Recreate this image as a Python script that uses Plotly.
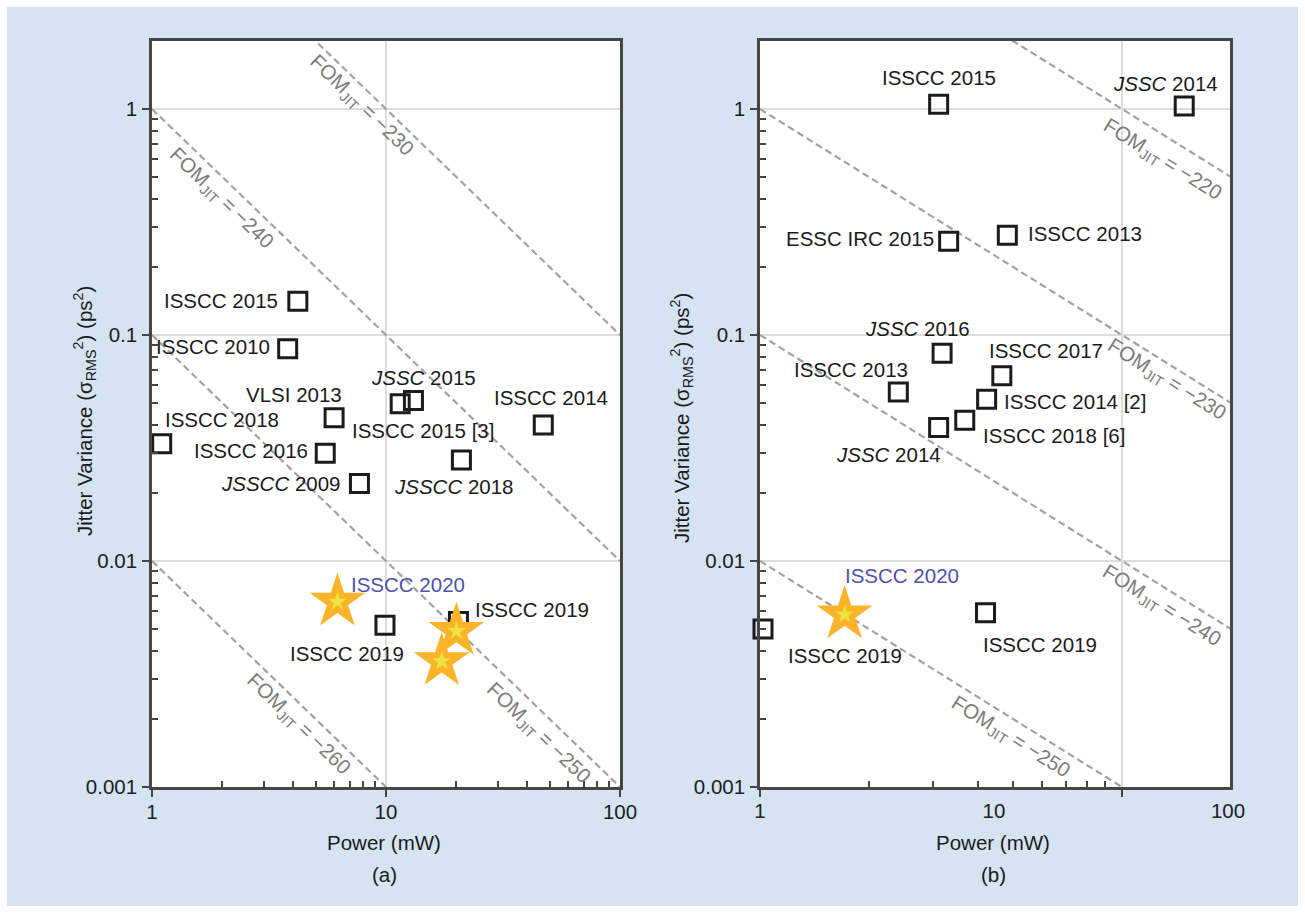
import numpy as np
import plotly.graph_objects as go

W, H = 1305, 913
M_T, M_B = 41, 126

# ---------------- data ----------------
# (a) published oscillators / PLLs: power (mW) vs jitter variance (ps^2)
a_power = [4.2, 3.8, 6.0, 1.1, 5.5, 7.7, 11.5, 13.1, 47.0, 21.0, 9.9, 20.4]
a_jitter = [0.141, 0.087, 0.043, 0.033, 0.030, 0.022, 0.0496, 0.0513, 0.040, 0.028, 0.0052, 0.0054]
a_labels = ["ISSCC 2015", "ISSCC 2010", "VLSI 2013", "ISSCC 2018", "ISSCC 2016",
            "<i>JSSCC</i> 2009", "ISSCC 2015 [3]", "<i>JSSC</i> 2015", "ISSCC 2014",
            "<i>JSSCC</i> 2018", "ISSCC 2019", "ISSCC 2019"]
a_star_power = [6.2, 20.0, 17.3]
a_star_jitter = [0.0066, 0.0049, 0.0036]
a_star_label = "ISSCC 2020"
a_fom = [-230, -240, -250, -260]

# (b)
b_power = [5.8, 65.0, 6.4, 11.4, 6.0, 3.9, 10.8, 9.3, 7.5, 5.8, 1.03, 9.2]
b_jitter = [1.05, 1.03, 0.26, 0.276, 0.083, 0.056, 0.066, 0.052, 0.042, 0.039, 0.0050, 0.0059]
b_labels = ["ISSCC 2015", "<i>JSSC</i> 2014", "ESSC IRC 2015", "ISSCC 2013", "<i>JSSC</i> 2016",
            "ISSCC 2013", "ISSCC 2017", "ISSCC 2014 [2]", "ISSCC 2018 [6]", "<i>JSSC</i> 2014",
            "ISSCC 2019", "ISSCC 2019"]
b_star_power = [2.3]
b_star_jitter = [0.0058]
b_star_label = "ISSCC 2020"
b_fom = [-220, -230, -240, -250]

x_ticks = [1, 10, 100]
x_ticktext = ["1", "10", "100"]
y_ticks = [0.001, 0.01, 0.1, 1]
y_ticktext = ["0.001", "0.01", "0.1", "1"]

# ---------------- style ----------------
FONT = "Liberation Sans, Arial, Helvetica, sans-serif"
INK = "#1b1b1b"
AXIS = "#454545"
GRID = "#dddddd"
FOM_GREY = "#a2a2a2"
FOM_TEXT = "#7c7c7c"
STAR_GOLD = "#fbb42a"
STAR_CORE = "#ece53e"
BLUE_TEXT = "#4d53a8"
BACKDROP = "#d5e3f3"
FS = 20.5

PLOT_H = H - M_T - M_B
DEC_Y = 226.0
Y_RANGE = [-3, -3 + PLOT_H / DEC_Y]

A_DOM = [152 / W, 620 / W]
B_DOM = [760 / W, 1230 / W]
B_DATA_RANGE = [0, 470 / 234]          # labelled power axis of panel (b)
B_GRID_RANGE = [1, 1 + 470 / 362]       # tick / FOM grid of panel (b)


def py(p):
    return (H - M_B - p) / PLOT_H


def minor_vals(lo_exp, hi_exp):
    return [m * 10 ** e for e in range(lo_exp, hi_exp) for m in range(2, 10)]


fig = go.Figure()


def fom_line(fom, p_lo, p_hi, xa, ya):
    p = np.array([p_lo, p_hi], dtype=float)
    s = 10 ** ((fom + 240) / 10) / p      # FOM_JIT = 10log10(sigma^2 * P) - 240
    fig.add_trace(go.Scatter(x=p, y=s, mode="lines", xaxis=xa, yaxis=ya,
                             line=dict(color=FOM_GREY, width=2.2, dash="7px,4px"),
                             hoverinfo="skip", showlegend=False))


for f in a_fom:
    fom_line(f, 1, 100, "x", "y")
for f in b_fom:
    fom_line(f, 10, 200, "x2", "y2")


def squares(px, sy, xa, ya):
    fig.add_trace(go.Scatter(x=px, y=sy, mode="markers", xaxis=xa, yaxis=ya,
                             marker=dict(symbol="square-open", size=18, color=INK,
                                         line=dict(width=3, color=INK)),
                             cliponaxis=False, hoverinfo="skip", showlegend=False))


def stars(px, sy, xa, ya):
    fig.add_trace(go.Scatter(x=px, y=sy, mode="markers", xaxis=xa, yaxis=ya,
                             marker=dict(symbol="star", size=42, color=STAR_GOLD,
                                         line=dict(width=0)),
                             cliponaxis=False, hoverinfo="skip", showlegend=False))
    fig.add_trace(go.Scatter(x=px, y=sy, mode="markers", xaxis=xa, yaxis=ya,
                             marker=dict(symbol="star", size=14, color=STAR_CORE,
                                         line=dict(width=0)),
                             cliponaxis=False, hoverinfo="skip", showlegend=False))


squares(a_power, a_jitter, "x", "y")
stars(a_star_power, a_star_jitter, "x", "y")
squares(b_power, b_jitter, "x3", "y2")
stars(b_star_power, b_star_jitter, "x3", "y2")

# label placement: (xanchor, xshift, yshift) relative to each marker
a_place = [("right", -18, 1), ("right", -16, 2), ("center", -40, 23), ("left", 1, 24),
           ("right", -15, 3), ("right", -16, 0), ("center", 23, -27), ("center", 10, 23),
           ("center", 8, 27), ("center", -7, -27), ("center", -38, -28), ("left", 15, 12)]
b_place = [("center", 0, 27), ("center", -19, 23), ("right", -13, 3), ("left", 19, 2),
           ("center", -25, 25), ("center", -47, 22), ("center", 44, 25), ("left", 15, -2),
           ("left", 16, -15), ("center", -50, -27), ("left", 23, -26), ("left", -5, -32)]

annotations = []


def point_labels(px, sy, texts, place, xref, yref):
    for p, s, t, (anc, dx, dy) in zip(px, sy, texts, place):
        annotations.append(dict(x=np.log10(p), y=np.log10(s), xref=xref, yref=yref,
                                text=t, showarrow=False, xanchor=anc, yanchor="middle",
                                xshift=dx, yshift=dy,
                                font=dict(family=FONT, size=FS, color=INK)))


point_labels(a_power, a_jitter, a_labels, a_place, "x", "y")
point_labels(b_power, b_jitter, b_labels, b_place, "x3", "y2")
annotations.append(dict(x=np.log10(a_star_power[0]), y=np.log10(a_star_jitter[0]),
                        xref="x", yref="y", text=a_star_label, showarrow=False,
                        xanchor="left", yanchor="middle", xshift=12, yshift=17,
                        font=dict(family=FONT, size=FS, color=BLUE_TEXT)))
annotations.append(dict(x=np.log10(b_star_power[0]), y=np.log10(b_star_jitter[0]),
                        xref="x3", yref="y2", text=b_star_label, showarrow=False,
                        xanchor="left", yanchor="middle", xshift=-2, yshift=39,
                        font=dict(family=FONT, size=FS, color=BLUE_TEXT)))

# FOM iso-line captions: (log10 power along the line, offset below the line)
a_fom_pos = {-230: (0.897, -20), -240: (0.299, -22), -250: (1.650, -25), -260: (0.624, -22)}
b_fom_pos = {-220: (2.113, -25), -230: (2.124, -17), -240: (2.110, -20), -250: (1.691, -20)}


def fom_captions(pos, xref, yref, angle):
    for f, (lp, dy) in pos.items():
        ls = (f + 240) / 10 - lp
        annotations.append(dict(x=lp, y=ls, xref=xref, yref=yref,
                                text=f"FOM<sub>JIT</sub> = \u2212{abs(f)}",
                                showarrow=False, textangle=angle, yshift=dy,
                                xanchor="center", yanchor="middle",
                                font=dict(family=FONT, size=FS, color=FOM_TEXT)))


fom_captions(a_fom_pos, "x", "y", 44)
fom_captions(b_fom_pos, "x2", "y2", 32)

# axis titles and panel tags
ytitle = "Jitter Variance (\u03c3<sub>RMS</sub><sup>2</sup>) (ps<sup>2</sup>)"
for cx, cy in [(84, 411), (681, 418)]:
    annotations.append(dict(x=cx / W, y=py(cy), xref="paper", yref="paper", text=ytitle,
                            showarrow=False, textangle=-90, xanchor="center",
                            yanchor="middle", font=dict(family=FONT, size=FS, color=INK)))
for cx, tag in [(384, "(a)"), (993, "(b)")]:
    annotations.append(dict(x=cx / W, y=py(842), xref="paper", yref="paper",
                            text="Power (mW)", showarrow=False, xanchor="center",
                            yanchor="middle", font=dict(family=FONT, size=FS, color=INK)))
    annotations.append(dict(x=cx / W, y=py(874), xref="paper", yref="paper",
                            text=tag, showarrow=False, xanchor="center",
                            yanchor="middle", font=dict(family=FONT, size=FS, color=INK)))

tickfont = dict(family=FONT, size=FS, color="#202020")
minor_common = dict(ticks="inside", ticklen=6, tickwidth=1.6, tickcolor=AXIS, showgrid=False)
frame = dict(showline=True, mirror=True, linecolor=AXIS, linewidth=2.5, zeroline=False)

y_common = dict(type="log", range=Y_RANGE, domain=[0, 1], tickmode="array",
                tickvals=y_ticks, ticktext=y_ticktext, ticks="outside", ticklen=7,
                tickwidth=2, tickcolor=AXIS, tickfont=tickfont, showgrid=True,
                gridcolor=GRID, gridwidth=1.5, ticklabelstandoff=1,
                minor=dict(tickmode="array", tickvals=minor_vals(-3, 0), **minor_common),
                **frame)

fig.update_layout(
    width=W, height=H, autosize=False,
    margin=dict(l=0, r=0, t=M_T, b=M_B, pad=0, autoexpand=False),
    paper_bgcolor="white", plot_bgcolor="white",
    showlegend=False,
    xaxis=dict(type="log", range=[0, 2], domain=A_DOM, anchor="y", tickmode="array",
               tickvals=x_ticks, ticktext=x_ticktext, ticks="outside", ticklen=7,
               tickwidth=2, tickcolor=AXIS, tickfont=tickfont, showgrid=True,
               gridcolor=GRID, gridwidth=1.5, ticklabelstandoff=-2,
               minor=dict(tickmode="array", tickvals=minor_vals(0, 2), **minor_common),
               **frame),
    yaxis=dict(anchor="x", **y_common),
    xaxis2=dict(type="log", range=B_GRID_RANGE, domain=B_DOM, anchor="y2",
                tickmode="array", tickvals=[10, 100], ticks="outside", ticklen=7,
                tickwidth=2, tickcolor=AXIS, showticklabels=False, showgrid=True,
                gridcolor=GRID, gridwidth=1.5,
                minor=dict(tickmode="array", tickvals=minor_vals(1, 2), **minor_common),
                **frame),
    xaxis3=dict(type="log", range=B_DATA_RANGE, overlaying="x2", anchor="y2",
                tickmode="array", tickvals=x_ticks, ticktext=x_ticktext,
                ticks="outside", ticklen=7, tickcolor="rgba(0,0,0,0)",
                tickfont=tickfont, showgrid=False, showline=False, zeroline=False,
                ticklabelstandoff=-2),
    yaxis2=dict(anchor="x2", **y_common),
    annotations=annotations,
    shapes=[
        dict(type="rect", xref="paper", yref="paper", x0=7 / W, x1=1298 / W,
             y0=py(906), y1=py(7), fillcolor=BACKDROP, line=dict(width=0), layer="below"),
        dict(type="rect", xref="x domain", yref="y domain", x0=0, x1=1, y0=0, y1=1,
             fillcolor="white", line=dict(width=0), layer="below"),
        dict(type="rect", xref="x2 domain", yref="y2 domain", x0=0, x1=1, y0=0, y1=1,
             fillcolor="white", line=dict(width=0), layer="below"),
    ],
)

fig.write_html("out.html", config={"responsive": False})
